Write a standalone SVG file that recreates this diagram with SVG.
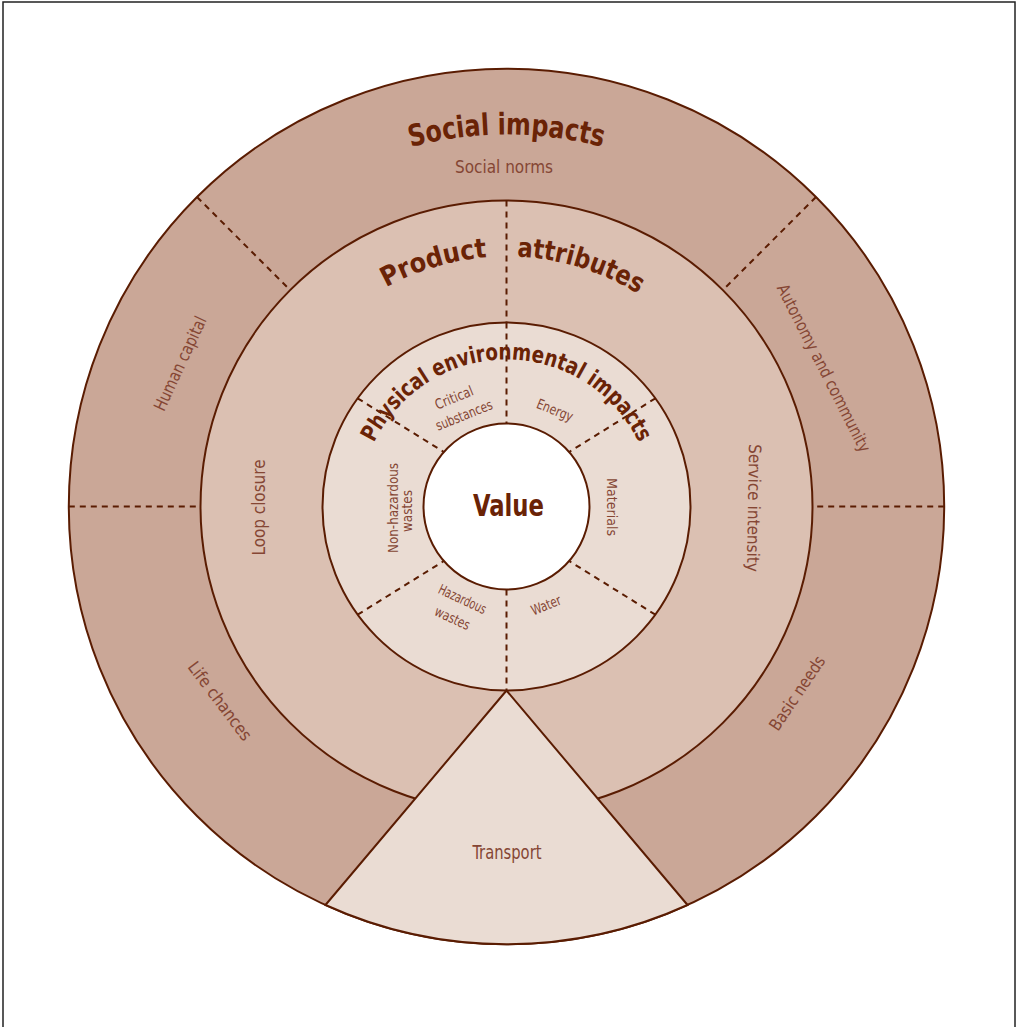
<svg xmlns="http://www.w3.org/2000/svg" width="1018" height="1027" viewBox="0 0 1018 1027">
  <style>
    .ring { stroke: #5a1c02; stroke-width: 2; }
    .outer { fill: #caa797; }
    .middle { fill: #dbc0b2; }
    .inner { fill: #eadcd3; }
    .core { fill: #ffffff; }
    .div { stroke: #5a1c02; stroke-width: 2; stroke-dasharray: 6 5; fill: none; }
    .title { font-family: "Liberation Sans Narrow", "DejaVu Sans Condensed", "Liberation Sans", sans-serif; font-weight: bold; fill: #6a2306; }
    .label { font-family: "Liberation Sans Narrow", "DejaVu Sans Condensed", "Liberation Sans", sans-serif; fill: #854634; text-anchor: middle; }
    .s14 { font-size: 14px; }
    .s17 { font-size: 17px; }
  </style>
  <defs>
    <path id="arcSocial" d="M 134.5,506.5 A 372 372 0 0 1 878.5,506.5"/>
    <path id="arcProduct" d="M 256.5,506.5 A 250 250 0 0 1 756.5,506.5"/>
    <path id="arcPhysical" d="M 359.5,506.5 A 147 147 0 0 1 653.5,506.5"/>
  </defs>

  <!-- page frame -->
  <rect x="3" y="2" width="1012" height="1060" fill="#ffffff" stroke="#222222" stroke-width="1.5"/>

  <!-- concentric rings -->
  <g id="social-ring">
    <circle class="ring outer" cx="506.5" cy="506.5" r="437.7"/>
  </g>
  <g id="product-ring">
    <circle class="ring middle" cx="506.5" cy="506.5" r="306"/>
  </g>
  <g id="transport">
    <path class="ring inner" d="M 506.5,690.5 L 325.45,905 A 437.7 437.7 0 0 0 687.55,905 Z"/>
    <text class="label" x="507" y="859" font-size="20" textLength="69" lengthAdjust="spacingAndGlyphs">Transport</text>
  </g>
  <g id="environment-ring">
    <circle class="ring inner" cx="506.5" cy="506.5" r="184"/>
  </g>
  <g id="value">
    <circle class="ring core" cx="506.5" cy="506.5" r="83"/>
    <text class="title" x="508.5" y="515.5" font-size="30" text-anchor="middle" textLength="71" lengthAdjust="spacingAndGlyphs">Value</text>
  </g>

  <!-- sector dividers -->
  <g id="dividers">
    <line class="div" x1="197" y1="197" x2="290.1" y2="290.1"/>
    <line class="div" x1="816" y1="197" x2="722.9" y2="290.1"/>
    <line class="div" x1="68.8" y1="506.5" x2="200.5" y2="506.5"/>
    <line class="div" x1="944.2" y1="506.5" x2="812.5" y2="506.5"/>
    <line class="div" x1="506.5" y1="200.5" x2="506.5" y2="322.5"/>
    <line class="div" x1="506.5" y1="322.5" x2="506.5" y2="423.5"/>
    <line class="div" x1="506.5" y1="589.5" x2="506.5" y2="690.5"/>
    <line class="div" x1="357.6" y1="398.3" x2="443.9" y2="452"/>
    <line class="div" x1="655.4" y1="398.3" x2="569.1" y2="452"/>
    <line class="div" x1="357.6" y1="614.7" x2="443.9" y2="561"/>
    <line class="div" x1="655.4" y1="614.7" x2="569.1" y2="561"/>
  </g>

  <!-- ring titles -->
  <g id="titles">
    <text class="title" font-size="30"><textPath href="#arcSocial" startOffset="50%" text-anchor="middle" textLength="194" lengthAdjust="spacingAndGlyphs">Social impacts</textPath></text>
    <text class="title" font-size="27"><textPath href="#arcProduct" startOffset="267" textLength="106" lengthAdjust="spacingAndGlyphs">Product</textPath></text>
    <text class="title" font-size="27"><textPath href="#arcProduct" startOffset="403" textLength="128" lengthAdjust="spacingAndGlyphs">attributes</textPath></text>
    <text class="title" font-size="23"><textPath href="#arcPhysical" startOffset="50%" text-anchor="middle" textLength="330" lengthAdjust="spacingAndGlyphs">Physical environmental impacts</textPath></text>
  </g>

  <!-- outer ring sectors -->
  <g id="social-norms"><text class="label s17" x="504" y="173" textLength="98" lengthAdjust="spacingAndGlyphs">Social norms</text></g>
  <g id="human-capital"><text class="label s17" transform="translate(180,363.5) rotate(-65)" y="6" textLength="102" lengthAdjust="spacingAndGlyphs">Human capital</text></g>
  <g id="autonomy"><text class="label s17" transform="translate(824,368) rotate(63)" y="6" textLength="186" lengthAdjust="spacingAndGlyphs">Autonomy and community</text></g>
  <g id="life-chances"><text class="label s17" transform="translate(220,701) rotate(53)" y="6" textLength="94" lengthAdjust="spacingAndGlyphs">Life chances</text></g>
  <g id="basic-needs"><text class="label s17" transform="translate(797,693) rotate(-56)" y="6" textLength="86" lengthAdjust="spacingAndGlyphs">Basic needs</text></g>

  <!-- middle ring sectors -->
  <g id="loop-closure"><text class="label s17" transform="translate(258.5,507.5) rotate(-90)" y="6" textLength="96" lengthAdjust="spacingAndGlyphs">Loop closure</text></g>
  <g id="service-intensity"><text class="label s17" transform="translate(754,508) rotate(91)" y="6" textLength="128" lengthAdjust="spacingAndGlyphs">Service intensity</text></g>

  <!-- inner ring sectors -->
  <g id="critical-substances">
    <text class="label s14" transform="translate(454,397.5) rotate(-22)" y="5" textLength="40" lengthAdjust="spacingAndGlyphs">Critical</text>
    <text class="label s14" transform="translate(464,415) rotate(-22)" y="5" textLength="60" lengthAdjust="spacingAndGlyphs">substances</text>
  </g>
  <g id="energy"><text class="label s14" transform="translate(555,410) rotate(22)" y="5" textLength="38" lengthAdjust="spacingAndGlyphs">Energy</text></g>
  <g id="materials"><text class="label s14" transform="translate(611.5,507) rotate(90)" y="5" textLength="58" lengthAdjust="spacingAndGlyphs">Materials</text></g>
  <g id="water"><text class="label s14" transform="translate(546,605) rotate(-22)" y="5" textLength="31" lengthAdjust="spacingAndGlyphs">Water</text></g>
  <g id="hazardous-wastes">
    <text class="label s14" transform="translate(462.5,599) rotate(25)" y="5" textLength="51" lengthAdjust="spacingAndGlyphs">Hazardous</text>
    <text class="label s14" transform="translate(452.5,618) rotate(25)" y="5" textLength="37" lengthAdjust="spacingAndGlyphs">wastes</text>
  </g>
  <g id="non-hazardous-wastes">
    <text class="label s14" transform="translate(393,508) rotate(-90)" y="5" textLength="90" lengthAdjust="spacingAndGlyphs">Non-hazardous</text>
    <text class="label s14" transform="translate(406.5,511) rotate(-90)" y="5" textLength="42" lengthAdjust="spacingAndGlyphs">wastes</text>
  </g>
</svg>
